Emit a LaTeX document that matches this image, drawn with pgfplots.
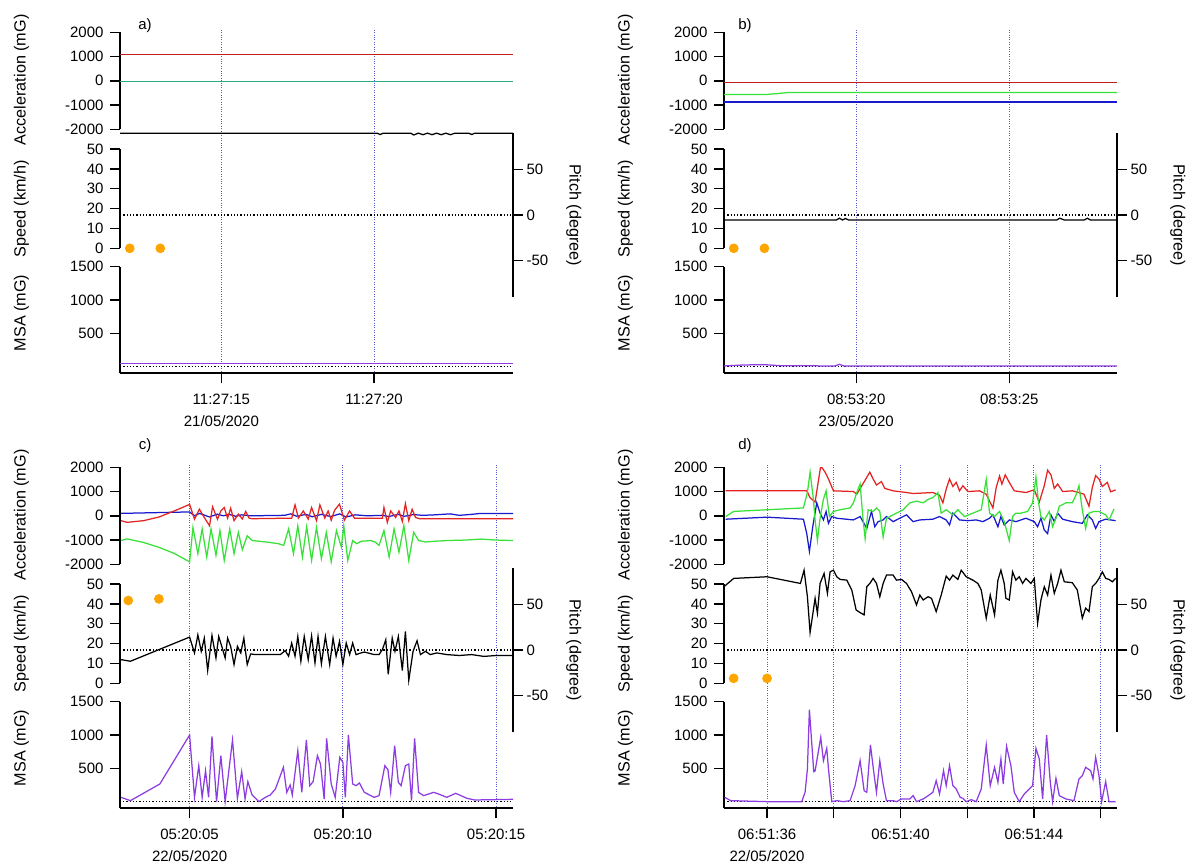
\documentclass[border=0pt]{standalone}
\usepackage{fontspec}
\setmainfont{Liberation Sans}
\usepackage{pgfplots}
\pgfplotsset{compat=1.18}
\definecolor{cred}{RGB}{228,35,35}
\definecolor{cgreen}{RGB}{55,225,55}
\definecolor{cblue}{RGB}{25,25,205}
\definecolor{cteal}{RGB}{40,170,130}
\definecolor{cpurple}{RGB}{140,60,225}
\definecolor{corange}{RGB}{255,165,0}
\definecolor{cgrid}{RGB}{90,90,210}
\newcommand\tf{\fontsize{15}{21.7}\selectfont}
\newcommand\lf{\fontsize{16.2}{19}\selectfont}
\pgfplotsset{
 base/.style={scale only axis, width=393pt, anchor=south west, tick align=outside, major tick length=10pt,
   /pgf/number format/assume math mode=true, /pgf/number format/1000 sep={},
   tick label style={font=\tf}, label style={font=\lf},
   axis line style={line width=1.6pt, black}, tick style={line width=1.4pt, black},
   every axis plot/.append style={line width=1.25pt}},
 frame/.style={base, height=343.3pt, ymin=0, ymax=1, axis y line=none, ytick=\empty, axis x line*=bottom,
   xmajorgrids, major grid style={draw=cgrid, dotted, line width=0.9pt}, xticklabel style={align=center, yshift=-7.5pt},
   axis line style={line width=2pt}},
 lefty/.style={axis y line*=left, axis x line=none, xtick=\empty, yticklabel style={xshift=-3pt}},
 acc/.style={base, lefty, height=97pt, ymin=-2000, ymax=2000, ytick={-2000,-1000,0,1000,2000},
   ylabel={Acceleration (mG)}, ylabel style={at={(axis description cs:-0.2506,0.51)}, anchor=center}},
 spd/.style={base, lefty, height=99.3pt, ymin=0, ymax=50, ytick={0,10,...,50}, clip=false,
   ylabel={Speed (km/h)}, ylabel style={at={(axis description cs:-0.2506,0.396)}, anchor=center}},
 pit/.style={base, height=164.6pt, ymin=-90, ymax=90, ytick={-50,0,50}, axis y line*=right, axis x line=none, xtick=\empty,
   ylabel={Pitch (degree)}, ylabel style={at={(axis description cs:1.155,0.5)}, anchor=center, rotate=180}},
 msa/.style={base, lefty, height=106.6pt, ymin=-100, ymax=1500, ytick={500,1000,1500},
   ylabel={MSA (mG)}, ylabel style={at={(axis description cs:-0.2506,0.566)}, anchor=center}},
 dots/.style={only marks, mark=*, mark size=4.2pt, color=corange},
 zl/.style={black, dotted, line width=1.1pt},
}
\begin{document}
\begin{tikzpicture}
\useasboundingbox (0pt,0pt) rectangle (1189pt,-865pt);
% ================= panel a =================
\pgfplotsset{xmin=11.68, xmax=24.55}
\begin{axis}[frame, at={(120pt,-373.3pt)}, xtick={15,20}, xticklabels={{11:27:15\\21/05/2020},{11:27:20}}]
\addplot[draw=none] coordinates {(15,0.5)};
\end{axis}
\begin{axis}[acc, at={(120pt,-129.3pt)}]
\addplot[cblue] coordinates {(11.68,-20) (24.55,-20)};
\addplot[cteal] coordinates {(11.68,-35) (24.55,-35)};
\addplot[cred!85!black] coordinates {(11.68,1070) (24.55,1070)};
\end{axis}
\begin{axis}[spd, at={(120pt,-248.3pt)}]
\addplot[dots] coordinates {(12,0) (13,0)};
\end{axis}
\begin{axis}[pit, at={(120pt,-297.3pt)}]
\addplot[zl] coordinates {(11.68,0) (24.55,0)};
\addplot[black] coordinates {(11.68,89.5) (20.1,89.5) (20.2,88) (20.3,89.5) (21.2,89.5) (21.3,87.5) (21.45,89.5) (21.6,87.8) (21.75,89.5) (21.9,87.8) (22.05,89.5) (22.2,87.8) (22.35,89.5) (22.5,87.8) (22.65,89.5) (23.1,89.5) (23.2,88) (23.3,89.5) (24.55,89.5)};
\end{axis}
\begin{axis}[msa, at={(120pt,-373.3pt)}]
\addplot[zl] coordinates {(11.68,0) (24.55,0)};
\addplot[cpurple] coordinates {(11.68,50) (24.55,50)};
\end{axis}
\node[font=\tf] at (145pt,-26pt) {a)};
% ================= panel b =================
\pgfplotsset{xmin=15.68, xmax=28.52}
\begin{axis}[frame, at={(724pt,-373.3pt)}, xtick={20,25}, xticklabels={{08:53:20\\23/05/2020},{08:53:25}}]
\addplot[draw=none] coordinates {(20,0.5)};
\end{axis}
\begin{axis}[acc, at={(724pt,-129.3pt)}]
\addplot[cblue] coordinates {(15.68,-870) (28.52,-870)};
\addplot[cgreen] coordinates {(15.68,-560) (17.1,-560) (17.4,-530) (17.8,-480) (28.52,-480)};
\addplot[cred!85!black] coordinates {(15.68,-80) (28.52,-80)};
\end{axis}
\begin{axis}[spd, at={(724pt,-248.3pt)}]
\addplot[dots] coordinates {(16,0) (17,0)};
\end{axis}
\begin{axis}[pit, at={(724pt,-297.3pt)}]
\addplot[zl] coordinates {(15.68,0) (28.52,0)};
\addplot[black] coordinates {(15.68,-5.5) (19.35,-5.5) (19.45,-3.5) (19.55,-5.5) (19.65,-3.8) (19.75,-5.5) (26.55,-5.5) (26.65,-3.5) (26.8,-5.5) (27.45,-5.5) (27.55,-3.5) (27.65,-5.5) (28.52,-5.5)};
\end{axis}
\begin{axis}[msa, at={(724pt,-373.3pt)}]
\addplot[zl] coordinates {(15.68,0) (28.52,0)};
\addplot[cpurple] coordinates {(15.68,10) (16.3,25) (17.0,30) (17.5,15) (19.3,10) (19.45,35) (19.6,10) (28.52,10)};
\end{axis}
\node[font=\tf] at (745pt,-26pt) {b)};
% ================= panel c =================
\pgfplotsset{xmin=2.73, xmax=15.55}
\begin{axis}[frame, at={(120pt,-808.3pt)}, xtick={5,10,15}, xticklabels={{05:20:05\\22/05/2020},{05:20:10},{05:20:15}}]
\addplot[draw=none] coordinates {(5,0.5)};
\end{axis}
\begin{axis}[acc, at={(120pt,-564.3pt)}]
\addplot[cgreen] coordinates {(2.76,-1020) (2.96,-950) (3.5,-1100) (4.0,-1300) (4.5,-1550) (5.0,-1900)
 (5.11,-480) (5.27,-1560) (5.41,-540) (5.56,-1700) (5.70,-540) (5.86,-1630) (5.99,-610) (6.13,-1840) (6.31,-540) (6.45,-1560) (6.59,-680) (6.72,-1400) (6.88,-820) (7.04,-1020) (7.5,-1080) (7.9,-1150) (8.07,-1220)
 (8.23,-540) (8.39,-1560) (8.53,-410) (8.68,-1700) (8.82,-450) (8.98,-1840) (9.14,-480) (9.30,-1770) (9.46,-680) (9.62,-1900) (9.79,-610) (9.95,-1290) (10.03,-410) (10.16,-1840) (10.32,-1020) (10.45,-1150) (10.6,-1050) (10.9,-1020) (11.05,-1080) (11.18,-1220)
 (11.34,-610) (11.51,-1700) (11.67,-540) (11.83,-1500) (11.99,-400) (12.15,-1840) (12.31,-680) (12.47,-1020) (12.7,-1080) (13.0,-1050) (13.4,-1020) (14.0,-1000) (14.5,-960) (15.0,-1000) (15.55,-1020)};
\addplot[cblue] coordinates {(2.76,100) (5.0,160) (5.16,0) (5.32,100) (5.48,30) (5.65,-50) (5.9,70) (6.1,0) (6.3,60) (6.5,-20) (6.7,40) (7.0,0) (8.1,20) (8.3,80) (8.5,-20) (8.8,60) (9.0,-40) (9.3,60) (9.6,-30) (9.9,80) (10.1,-50) (10.4,40) (10.8,0) (11.3,20) (11.5,-30) (11.8,60) (12.0,-20) (12.3,50) (12.6,20) (13.0,40) (13.5,80) (13.8,20) (14.2,60) (14.5,100) (15.55,100)};
\addplot[cred] coordinates {(2.76,-200) (2.96,-270) (3.5,-200) (4.0,-50) (4.5,200) (5.0,470)
 (5.16,-140) (5.32,270) (5.48,-70) (5.65,-410) (5.75,370) (5.91,-140) (6.02,200) (6.13,340) (6.24,-95) (6.34,310) (6.45,-200) (6.59,70) (6.72,-130) (6.83,180) (6.94,-95) (7.04,-120) (8.12,-100)
 (8.33,-100) (8.44,450) (8.55,-95) (8.71,200) (8.87,-136) (8.98,340) (9.14,-200) (9.25,450) (9.41,-95) (9.52,200) (9.62,-180) (9.73,230) (9.89,480) (10.05,-180) (10.22,200) (10.38,-100) (11.29,-100)
 (11.34,340) (11.45,-270) (11.56,200) (11.72,-68) (11.83,200) (11.94,-230) (12.04,500) (12.15,-200) (12.26,270) (12.37,-68) (12.5,-120) (13.39,-120) (15.55,-125)};
\end{axis}
\begin{axis}[spd, at={(120pt,-683.3pt)}]
\addplot[dots] coordinates {(3,41.7) (4,42.5)};
\end{axis}
\begin{axis}[pit, at={(120pt,-732.3pt)}]
\addplot[zl] coordinates {(2.73,0) (15.55,0)};
\addplot[black] coordinates {(2.76,-10.5) (3.07,-12.3) (5.0,14.1) (5.16,-3.2) (5.27,16.6) (5.38,-1.4) (5.48,13.0) (5.59,-22.4) (5.73,15.9) (5.86,-8.7) (5.95,14.8) (6.05,4.0) (6.16,-8.7) (6.24,13.0) (6.34,4.0) (6.45,-15.9) (6.56,4.0) (6.67,-3.2) (6.77,13.0) (6.88,-15.9) (6.99,-4.3) (7.15,-5.0) (7.69,-5.0) (7.96,-5.0) (8.12,-0.7) (8.23,-6.8) (8.33,7.6) (8.44,-6.8) (8.53,14.8) (8.63,-12.3) (8.74,14.8) (8.87,-10.5) (8.98,15.5) (9.09,-14.1) (9.19,14.8) (9.30,-15.1) (9.43,14.8) (9.57,-15.9) (9.68,13.0) (9.78,-6.8) (9.89,9.4) (10.0,-15.9) (10.11,7.6) (10.22,-5.0) (10.32,7.6) (10.43,-5.0) (10.59,-3.2) (10.70,-2.2) (11.02,-5.0) (11.18,-5.0) (11.29,0.4) (11.40,11.2) (11.48,-26.7) (11.61,13.0) (11.70,-1.4) (11.81,14.8) (11.94,-22.4) (12.04,20.2) (12.15,-33.2) (12.29,-1.4) (12.42,10.1) (12.53,-5.0) (12.69,-1.4) (12.85,-5.0) (13.06,-3.2) (13.39,-5.0) (13.8,-6) (14.2,-5) (14.6,-7) (15.0,-6) (15.55,-6)};
\end{axis}
\begin{axis}[msa, at={(120pt,-808.3pt)}]
\addplot[zl] coordinates {(2.73,0) (15.55,0)};
\addplot[cpurple] coordinates {(2.76,65) (3.07,15) (4.03,265) (5.0,1000) (5.16,65) (5.30,540) (5.41,65) (5.52,465) (5.62,65) (5.73,980) (5.88,0) (6.02,690) (6.16,0) (6.40,925) (6.56,50) (6.70,450) (6.81,40) (6.90,300) (7.04,100) (7.26,0) (7.47,65) (7.63,100) (7.80,190) (8.06,515) (8.17,140) (8.28,250) (8.35,100) (8.53,765) (8.66,140) (8.81,925) (8.92,240) (9.03,300) (9.17,690) (9.27,565) (9.39,40) (9.47,950) (9.62,265) (9.75,65) (9.90,665) (10.0,590) (10.08,65) (10.18,1000) (10.32,265) (10.43,240) (10.54,280) (10.70,140) (11.02,65) (11.18,90) (11.37,540) (11.47,480) (11.56,140) (11.69,840) (11.81,290) (11.90,240) (12.04,540) (12.15,565) (12.24,15) (12.34,950) (12.47,140) (12.63,90) (12.80,115) (12.96,140) (13.12,115) (13.39,65) (13.68,125) (14.05,50) (14.3,25) (15.55,35)};
\end{axis}
\node[font=\tf] at (145pt,-446pt) {c)};
% ================= panel d =================
\pgfplotsset{xmin=34.71, xmax=46.49}
\begin{axis}[frame, at={(724pt,-808.3pt)}, xtick={36,38,40,42,44,46}, xticklabels={{06:51:36\\22/05/2020},,{06:51:40},,{06:51:44},}]
\addplot[draw=none] coordinates {(36,0.5)};
\end{axis}
\begin{axis}[acc, at={(724pt,-564.3pt)}]
\addplot[cred] coordinates {(34.76,1030) (37.14,1030) (37.19,1030) (37.29,750) (37.44,565) (37.61,2060) (37.74,1800) (37.84,1520) (37.99,1030) (38.59,1000) (38.69,890) (39.08,1800) (39.18,1520) (39.28,1270) (39.43,1410) (39.53,1130) (39.78,1030) (40.18,960) (40.38,920) (40.97,960) (41.17,850) (41.27,535) (41.37,1100) (41.47,1520) (41.57,1210) (41.67,1380) (41.77,1030) (41.87,1240) (42.02,1000) (42.37,1030) (42.57,890) (42.77,325) (42.87,1170) (42.97,1640) (43.04,1310) (43.14,1690) (43.26,1380) (43.41,1030) (43.76,960) (44.01,1070) (44.16,565) (44.31,1240) (44.41,1880) (44.51,1690) (44.61,1130) (44.71,1310) (44.86,1000) (45.15,1030) (45.35,960) (45.50,890) (45.65,395) (45.75,1170) (45.85,1660) (45.95,1520) (46.05,1210) (46.20,1380) (46.30,990) (46.45,1070)};
\addplot[cblue] coordinates {(34.76,-140) (36.0,-56) (37.09,-140) (37.19,-730) (37.27,-1470) (37.37,-450) (37.49,535) (37.59,110) (37.69,-170) (37.77,180) (37.84,-310) (37.94,-30) (38.09,-100) (38.59,-170) (38.79,-30) (38.99,-520) (39.13,180) (39.23,-450) (39.33,-240) (39.48,-170) (39.58,-30) (39.78,-240) (39.98,-100) (40.18,40) (40.38,-240) (40.58,-170) (40.97,-140) (41.17,-30) (41.37,-170) (41.47,-380) (41.57,110) (41.77,-170) (42.02,-200) (42.27,-170) (42.47,-240) (42.67,-100) (42.77,40) (42.92,-450) (43.01,-30) (43.11,-380) (43.26,-170) (43.46,-240) (43.76,-100) (44.01,-240) (44.11,-450) (44.21,-100) (44.31,-590) (44.41,-730) (44.51,40) (44.61,-240) (44.71,110) (44.86,-140) (45.15,-240) (45.45,-310) (45.60,40) (45.75,-170) (45.85,-520) (45.95,-240) (46.15,-140) (46.45,-200)};
\addplot[cgreen] coordinates {(34.76,-30) (35.0,180) (37.09,325) (37.21,960) (37.29,1800) (37.39,680) (37.44,-170) (37.51,-1020) (37.59,-100) (37.69,680) (37.77,1030) (37.87,-30) (37.99,180) (38.19,250) (38.49,325) (38.59,535) (38.69,960) (38.79,1310) (38.87,-30) (38.94,-940) (39.03,250) (39.18,180) (39.28,325) (39.38,180) (39.48,-870) (39.58,-100) (39.78,40) (40.08,250) (40.28,535) (40.48,605) (40.68,535) (40.83,680) (40.97,750) (41.12,960) (41.22,110) (41.37,250) (41.57,40) (41.72,250) (41.92,-30) (42.17,110) (42.42,250) (42.57,1500) (42.67,110) (42.82,-30) (42.97,180) (43.11,-240) (43.26,-1020) (43.36,-30) (43.46,110) (43.61,110) (43.81,180) (43.96,535) (44.06,1600) (44.14,535) (44.21,-30) (44.31,-170) (44.46,180) (44.56,-450) (44.66,-100) (44.76,395) (44.96,535) (45.15,535) (45.25,820) (45.35,1240) (45.45,250) (45.55,-520) (45.65,110) (45.80,180) (45.95,180) (46.15,40) (46.25,-170) (46.40,280)};
\end{axis}
\begin{axis}[spd, at={(724pt,-683.3pt)}]
\addplot[dots] coordinates {(35,2.5) (36,2.5)};
\end{axis}
\begin{axis}[pit, at={(724pt,-732.3pt)}]
\addplot[zl] coordinates {(34.71,0) (46.49,0)};
\addplot[black] coordinates {(34.73,69.9) (35.0,78.3) (36.0,80.1) (37.0,72.8) (37.11,87.3) (37.21,58.3) (37.29,19.2) (37.39,43.8) (37.44,56.5) (37.51,40.2) (37.59,72.8) (37.71,83.7) (37.81,62.0) (37.89,85.5) (37.99,87.3) (38.09,80.1) (38.19,77.2) (38.39,76.4) (38.54,65.6) (38.67,43.8) (38.79,40.9) (38.91,38.4) (38.99,69.2) (39.08,72.8) (39.18,78.3) (39.28,72.8) (39.38,58.3) (39.48,72.8) (39.58,81.9) (39.78,81.9) (39.88,76.4) (40.03,77.2) (40.18,72.8) (40.33,63.8) (40.48,49.3) (40.58,60.1) (40.68,54.7) (40.83,58.3) (40.93,56.5) (41.07,42.0) (41.22,60.1) (41.37,80.8) (41.47,76.4) (41.57,81.9) (41.72,77.2) (41.82,87.3) (41.97,80.1) (42.17,76.4) (42.32,72.8) (42.42,65.6) (42.57,34.8) (42.69,60.1) (42.82,38.4) (42.92,76.4) (43.01,87.3) (43.11,72.8) (43.16,56.5) (43.26,54.7) (43.36,85.5) (43.46,76.4) (43.56,80.1) (43.66,72.8) (43.76,78.3) (43.91,72.8) (44.01,78.3) (44.11,29.3) (44.21,54.7) (44.31,69.2) (44.41,60.1) (44.51,81.9) (44.61,62.0) (44.71,72.8) (44.81,87.3) (44.91,74.6) (45.15,73.6) (45.30,65.6) (45.45,34.8) (45.55,45.7) (45.65,42.0) (45.75,69.2) (45.85,72.8) (45.95,78.3) (46.05,85.5) (46.15,78.3) (46.25,77.2) (46.35,74.6) (46.45,78.3)};
\end{axis}
\begin{axis}[msa, at={(724pt,-808.3pt)}]
\addplot[zl] coordinates {(34.71,0) (46.49,0)};
\addplot[cpurple] coordinates {(34.73,65) (34.91,15) (36.0,0) (37.04,0) (37.14,140) (37.21,490) (37.27,1380) (37.40,450) (37.44,460) (37.61,965) (37.69,615) (37.79,800) (37.84,500) (37.94,0) (38.09,15) (38.29,0) (38.49,15) (38.64,240) (38.79,615) (38.91,165) (38.99,140) (39.10,850) (39.20,440) (39.28,140) (39.38,615) (39.48,265) (39.58,15) (39.78,15) (39.88,0) (40.03,40) (40.28,40) (40.38,90) (40.48,0) (40.68,40) (40.83,90) (40.97,140) (41.07,315) (41.17,115) (41.29,465) (41.37,240) (41.47,540) (41.57,240) (41.67,190) (41.79,65) (41.87,50) (41.97,0) (42.12,30) (42.27,0) (42.42,190) (42.57,850) (42.69,240) (42.82,515) (42.92,290) (43.01,640) (43.08,265) (43.18,830) (43.31,540) (43.41,140) (43.56,0) (43.71,115) (43.86,190) (43.96,240) (44.06,800) (44.16,640) (44.26,40) (44.38,1000) (44.49,290) (44.56,0) (44.66,350) (44.76,90) (44.96,40) (45.20,15) (45.35,340) (45.45,390) (45.55,515) (45.70,465) (45.77,340) (45.85,665) (45.95,390) (46.03,0) (46.15,300) (46.25,0) (46.45,0)};
\end{axis}
\node[font=\tf] at (745pt,-446pt) {d)};
\end{tikzpicture}
\end{document}
